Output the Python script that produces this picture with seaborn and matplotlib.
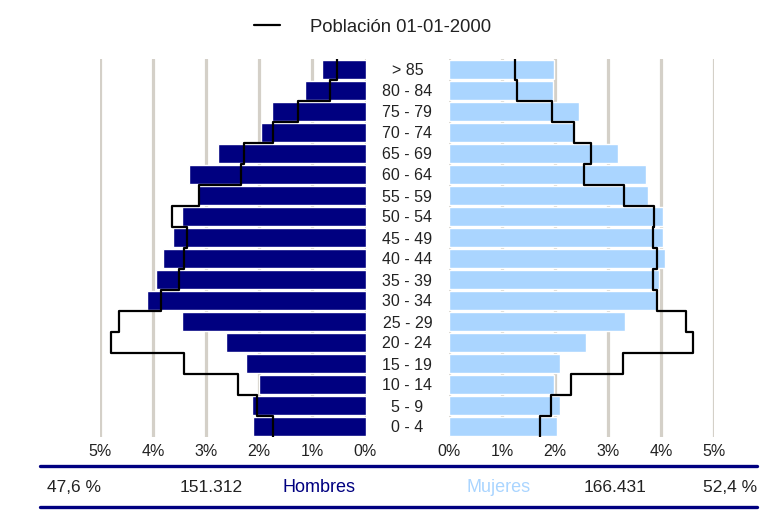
import numpy as np
import pandas as pd
import matplotlib
matplotlib.use("Agg")
import matplotlib.pyplot as plt
import seaborn as sns
from matplotlib.lines import Line2D

# ==============================
# DATA (percent of total population)
# ==============================
ages = ["> 85", "80 - 84", "75 - 79", "70 - 74", "65 - 69", "60 - 64",
        "55 - 59", "50 - 54", "45 - 49", "40 - 44", "35 - 39", "30 - 34",
        "25 - 29", "20 - 24", "15 - 19", "10 - 14", "5 - 9", "0 - 4"]

hombres = [0.82, 1.14, 1.77, 1.97, 2.77, 3.33, 3.18, 3.45, 3.62, 3.81,
           3.94, 4.11, 3.46, 2.63, 2.25, 2.01, 2.13, 2.12]
mujeres = [1.98, 1.96, 2.46, 2.36, 3.19, 3.72, 3.76, 4.03, 4.03, 4.08,
           3.97, 3.92, 3.33, 2.58, 2.09, 1.99, 2.09, 2.03]

# reference population 01-01-2000
hombres_2000 = [0.54, 0.67, 1.28, 1.74, 2.28, 2.35, 3.14, 3.65, 3.37, 3.41,
                3.51, 3.85, 4.64, 4.80, 3.41, 2.41, 2.04, 1.74]
mujeres_2000 = [1.25, 1.28, 1.94, 2.35, 2.67, 2.54, 3.31, 3.87, 3.85, 3.93,
                3.84, 3.92, 4.47, 4.61, 3.28, 2.31, 1.92, 1.72]

pct_ticks = [0, 1, 2, 3, 4, 5]
pct_labels = ["0%", "1%", "2%", "3%", "4%", "5%"]

totales = ["47,6 %", "151.312", "Hombres", "Mujeres", "166.431", "52,4 %"]

df = pd.DataFrame({"edad": ages, "hombres": hombres, "mujeres": mujeres})

# ==============================
# STYLE
# ==============================
sns.set_style("white")
plt.rcParams["font.family"] = ["Liberation Sans", "DejaVu Sans"]

NAVY = "#000080"
LIGHT = "#AAD5FF"
GRID = "#D4D0C8"
TXT = "#222222"


def step_outline(values):
    # outline of the reference population, one vertical segment per age row
    idx = np.arange(len(values))
    xs = np.repeat(values, 2)
    ys = np.column_stack([idx - 0.5, idx + 0.5]).ravel()
    return xs, ys


fig = plt.figure(figsize=(7.76, 5.14), dpi=100)
ax_h = fig.add_axes([100 / 776, 1 - 437 / 514, 265.5 / 776, 378 / 514])
ax_m = fig.add_axes([449 / 776, 1 - 437 / 514, 265 / 776, 378 / 514])

for ax in (ax_h, ax_m):
    ax.set_axisbelow(True)
    ax.grid(axis="x", color=GRID, linewidth=2.3)
    ax.grid(axis="y", visible=False)

sns.barplot(data=df, x="hombres", y="edad", orient="h", color=NAVY,
            width=0.88, saturation=1, ax=ax_h)
sns.barplot(data=df, x="mujeres", y="edad", orient="h", color=LIGHT,
            width=0.88, saturation=1, ax=ax_m)

xs, ys = step_outline(hombres_2000)
line, = ax_h.plot(xs, ys, color="black", linewidth=1.6)
xs, ys = step_outline(mujeres_2000)
ax_m.plot(xs, ys, color="black", linewidth=1.6)

ax_h.set_xlim(5.0, 0)
ax_m.set_xlim(0, 5.0)

for ax in (ax_h, ax_m):
    ax.set_ylim(len(ages) - 0.5, -0.5)
    ax.set_xticks(pct_ticks)
    ax.set_xticklabels(pct_labels, fontsize=11.5, color=TXT)
    ax.tick_params(axis="x", length=0, pad=5)
    ax.set_xlabel("")
    ax.set_ylabel("")
    sns.despine(ax=ax, left=True, bottom=True)

ax_h.set_yticks([])
ax_m.set_yticks(range(len(ages)))
ax_m.set_yticklabels(ages, fontsize=11.5, color=TXT, ha="center")
ax_m.tick_params(axis="y", length=0, pad=30)

# legend
fig.legend(handles=[line], labels=["Población 01-01-2000"], loc="center",
           bbox_to_anchor=(0.4805, 0.947), frameon=False, fontsize=13.3,
           handlelength=1.4, handletextpad=1.64, labelcolor=TXT)

# totals band at the bottom
for yl in (1 - 466 / 514, 1 - 507 / 514):
    fig.add_artist(Line2D([40 / 776, 757 / 776], [yl, yl],
                          transform=fig.transFigure, color=NAVY, linewidth=2.4))

ytxt = 1 - 488 / 514
fig.text(47 / 776, ytxt, totales[0], ha="left", va="center", fontsize=12.5, color=TXT)
fig.text(211 / 776, ytxt, totales[1], ha="center", va="center", fontsize=12.5, color=TXT)
fig.text(282 / 776, ytxt, totales[2], ha="left", va="center", fontsize=13, color=NAVY)
fig.text(467 / 776, ytxt, totales[3], ha="left", va="center", fontsize=13, color=LIGHT)
fig.text(615 / 776, ytxt, totales[4], ha="center", va="center", fontsize=12.5, color=TXT)
fig.text(757 / 776, ytxt, totales[5], ha="right", va="center", fontsize=12.5, color=TXT)

fig.savefig("out.png", dpi=100, facecolor="white")
